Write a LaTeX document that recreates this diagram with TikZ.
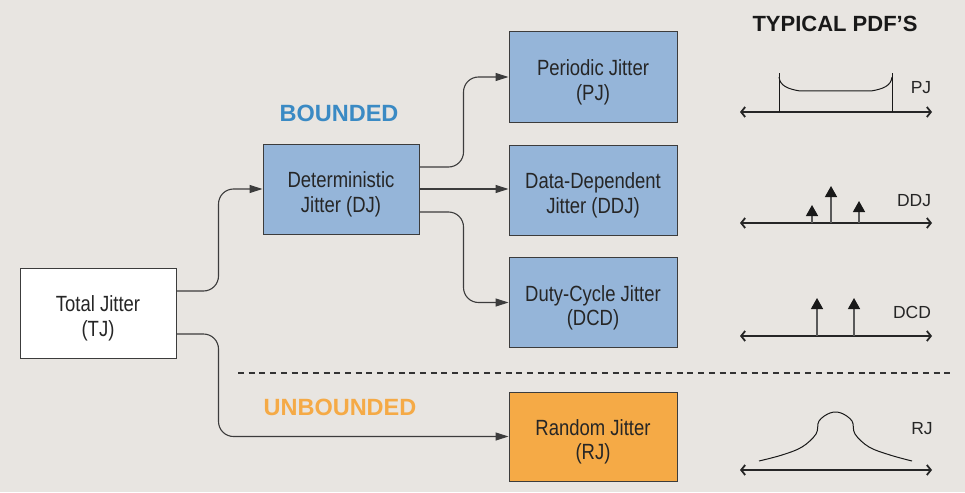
\documentclass[tikz,border=0pt]{standalone}
\usepackage{fontspec}
\setmainfont{Liberation Sans}
\newfontfamily\boxfont[FakeStretch=0.84]{Liberation Sans}
\usetikzlibrary{arrows.meta}
\definecolor{bg}{RGB}{232,229,225}
\definecolor{boxblue}{RGB}{149,181,217}
\definecolor{boxorange}{RGB}{245,170,70}
\definecolor{lblblue}{RGB}{58,138,196}
\definecolor{lblorange}{RGB}{245,170,70}
\definecolor{edge}{RGB}{60,60,60}
\newcommand{\tstrut}{\rule{0pt}{27pt}}
\tikzset{
  jbox/.style={draw=edge, line width=1pt, minimum width=156pt, minimum height=90pt,
    inner sep=0pt, align=center, font=\boxfont\fontsize{22}{24.5}\selectfont, text=black!85},
  jboxw/.style={jbox, minimum width=168pt},
  conn/.style={draw=edge, line width=1.1pt, rounded corners=15pt,
    -{Triangle[length=13pt,width=8pt]}},
  axis/.style={draw=black!85, line width=1.7pt,
    {Straight Barb[length=4pt,width=10pt,line width=1.8pt]}-{Straight Barb[length=4pt,width=10pt,line width=1.8pt]}},
  imp/.style={draw=black!65, line width=1.4pt, -{Triangle[length=11pt,width=12pt,black!90]}},
  pdfline/.style={draw=black!90, line width=1pt},
  pdflbl/.style={font=\fontsize{17.5}{20}\selectfont, text=black!85},
  grp/.style={font=\bfseries\fontsize{23.5}{26}\selectfont},
  ttl/.style={font=\bfseries\fontsize{22}{26}\selectfont}
}
\begin{document}
\begin{tikzpicture}[x=1pt,y=-1pt]
\fill[bg] (0,0) rectangle (965,492);
\useasboundingbox (0,0) rectangle (965,492);

% boxes
\node[jbox, fill=white] (tj) at (98,313) {\tstrut Total Jitter\\(TJ)};
\node[jbox, fill=boxblue] (dj) at (341,189) {\tstrut Deterministic\\Jitter (DJ)};
\node[jboxw, fill=boxblue] (pj) at (593,77) {\tstrut Periodic Jitter\\(PJ)};
\node[jboxw, fill=boxblue] (ddj) at (593,190) {\tstrut Data-Dependent\\Jitter (DDJ)};
\node[jboxw, fill=boxblue] (dcd) at (593,302.5) {\tstrut Duty-Cycle Jitter\\(DCD)};
\node[jboxw, fill=boxorange, minimum height=89pt] (rj) at (593,436.5) {\tstrut Random Jitter\\(RJ)};

% group labels
\node[grp, text=lblblue] (bnd) at (339,113) {BOUNDED};
\node[grp, text=lblorange] (unb) at (340,407) {UNBOUNDED};
\node[ttl, text=black!90] (typ) at (835,24) {TYPICAL PDF’S};

% dashed separator
\coordinate (dsA) at (238,373);
\coordinate (dsB) at (952,373);
\draw[black!80, line width=2pt, dash pattern=on 6pt off 4.7pt] (dsA) -- (dsB);

% connectors
\draw[conn] ([yshift=22pt]tj.east) -- ++(42,0) |- (dj.west);
\draw[conn] ([yshift=-21pt]tj.east) -- ++(42,0) |- (rj.west);
\draw[conn] ([yshift=22pt]dj.east) -- ++(44,0) |- (pj.west);
\draw[conn] (dj.east) -- (dj.east -| ddj.west);
\draw[conn] ([yshift=-23pt]dj.east) -- ++(44,0) |- (dcd.west);

% PJ pdf
\coordinate (pjA) at (740,112); \coordinate (pjB) at (932,112);
\draw[axis] (pjA) -- (pjB);
\draw[pdfline] (779,112) -- (779,73);
\draw[pdfline] (892,112) -- (892,73);
\draw[pdfline] (779,77) .. controls (780,86) and (788,89) .. (800,91) -- (871,91) .. controls (883,89) and (891,86) .. (892,77);
\node[pdflbl] (pjl) at (921,88) {PJ};

% DDJ pdf
\coordinate (ddA) at (740,223); \coordinate (ddB) at (932,223);
\draw[axis] (ddA) -- (ddB);
\draw[imp] (812,223) -- (812,205);
\draw[imp] (831,223) -- (831,186);
\draw[imp] (859,223) -- (859,201);
\node[pdflbl] (ddl) at (914,201) {DDJ};

% DCD pdf
\coordinate (dcA) at (740,336); \coordinate (dcB) at (932,336);
\draw[axis] (dcA) -- (dcB);
\draw[imp] (817,336) -- (817,298);
\draw[imp] (854,336) -- (854,298);
\node[pdflbl] (dcl) at (912,312) {DCD};

% RJ pdf
\coordinate (rjA) at (740,470); \coordinate (rjB) at (932,470);
\draw[axis] (rjA) -- (rjB);
\draw[pdfline] plot[smooth, tension=0.6] coordinates {(759,461) (782,455) (802,447) (816,434) (819,421) (830,413) (841,413) (852,421) (855,434) (869,447) (890,455) (912,461)};
\node[pdflbl] (rjl) at (922,429) {RJ};
\end{tikzpicture}
\end{document}
